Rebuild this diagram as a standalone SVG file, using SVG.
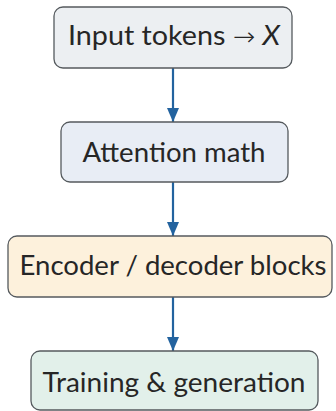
<svg xmlns="http://www.w3.org/2000/svg" width="336" height="411" viewBox="0 0 336 411">
<defs>
<marker id="ah" viewBox="0 0 14 12" refX="14" refY="6" markerWidth="14" markerHeight="12" markerUnits="userSpaceOnUse" orient="auto">
<path d="M0,0 L14,6 L0,12 Z" fill="#23639f"/>
</marker>
<style>
.box{stroke:#555a5e;stroke-width:1.3}
.t{font-family:Lato,"Liberation Sans",sans-serif;font-size:27px;fill:#262626;text-anchor:middle}
.c{stroke:#23639f;stroke-width:2.2;fill:none}
</style>
</defs>
<rect width="336" height="411" fill="#fff"/>
<g id="connectors">
<line class="c" x1="173" y1="68" x2="173" y2="122" marker-end="url(#ah)"/>
<line class="c" x1="173" y1="182" x2="173" y2="236" marker-end="url(#ah)"/>
<line class="c" x1="173" y1="297" x2="173" y2="351" marker-end="url(#ah)"/>
</g>
<g id="n1">
<rect class="box" x="54" y="7" width="238" height="61" rx="9" fill="#eceff2"/>
<text class="t" x="174" y="45" textLength="212" lengthAdjust="spacingAndGlyphs">Input tokens <tspan font-family="DejaVu Sans, sans-serif" font-size="25" font-weight="200">→</tspan> <tspan font-style="italic" font-family="Lato, sans-serif">X</tspan></text>
</g>
<g id="n2">
<rect class="box" x="61" y="122" width="227" height="60" rx="9" fill="#e8edf5"/>
<text class="t" x="174" y="162" textLength="183" lengthAdjust="spacingAndGlyphs">Attention math</text>
</g>
<g id="n3">
<rect class="box" x="8" y="236" width="324" height="61" rx="9" fill="#fdf1dc"/>
<text class="t" x="173" y="275" textLength="307" lengthAdjust="spacingAndGlyphs">Encoder / decoder blocks</text>
</g>
<g id="n4">
<rect class="box" x="31" y="351" width="287" height="59" rx="9" fill="#e2f0ea"/>
<text class="t" x="174" y="392" textLength="263" lengthAdjust="spacingAndGlyphs">Training &amp; generation</text>
</g>
</svg>
